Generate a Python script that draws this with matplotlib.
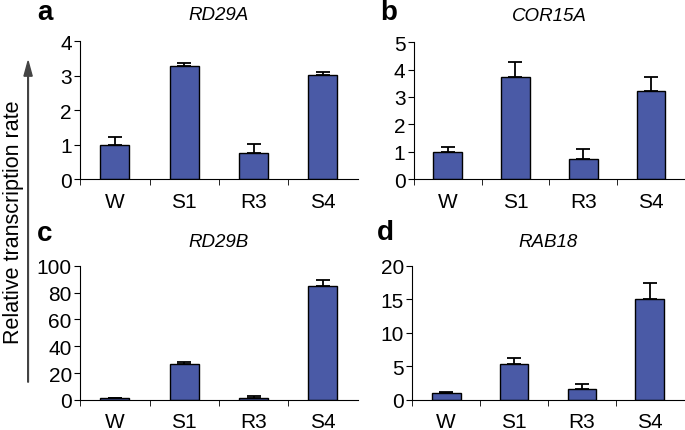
import matplotlib.pyplot as plt
from matplotlib.patches import FancyArrow

plt.rcParams['font.family'] = ['Liberation Sans', 'DejaVu Sans']

# sample labels shared by all panels
samples = ["W", "S1", "R3", "S4"]

# panel a - RD29A
rd29a_mean = [1.0, 3.27, 0.76, 3.03]
rd29a_err = [0.23, 0.11, 0.27, 0.08]
# panel b - COR15A
cor15a_mean = [0.98, 3.72, 0.72, 3.2]
cor15a_err = [0.2, 0.57, 0.37, 0.51]
# panel c - RD29B
rd29b_mean = [1.0, 26.7, 1.5, 84.7]
rd29b_err = [0.3, 1.2, 1.0, 4.5]
# panel d - RAB18
rab18_mean = [1.0, 5.3, 1.6, 15.0]
rab18_err = [0.15, 0.95, 0.7, 2.5]

bar_color = "#4a5aa6"

fig = plt.figure(figsize=(6.85, 4.31), dpi=100)


def bar_panel(rect, letter, letter_xy, gene, title_pad, means, errs, ymax, step):
    ax = fig.add_axes(rect)
    x = range(len(samples))
    ax.bar(x, means, width=0.42, color=bar_color, edgecolor="black", linewidth=1.0,
           yerr=[[0] * len(errs), errs], capsize=5,
           error_kw=dict(ecolor="black", elinewidth=1.3, capthick=1.3))
    ax.set_xlim(-0.5, len(samples) - 0.5)
    ax.set_ylim(0, ymax)
    ax.set_yticks(range(0, ymax + 1, step))
    ax.set_xticks(list(x))
    ax.set_xticklabels(samples)
    ax.set_xticks([i - 0.5 for i in range(len(samples))], minor=True)
    ax.tick_params(axis="x", which="major", length=0, labelsize=15, pad=9)
    ax.tick_params(axis="x", which="minor", length=4, direction="out")
    ax.tick_params(axis="y", length=4, direction="out", labelsize=15, pad=2)
    ax.spines["top"].set_visible(False)
    ax.spines["right"].set_visible(False)
    ax.set_title(gene, fontstyle="italic", fontsize=13.5, pad=title_pad)
    ax.text(letter_xy[0], letter_xy[1], letter, transform=ax.transAxes, fontsize=20,
            fontweight="bold", va="baseline", ha="left")
    return ax


bar_panel([0.117, 0.582, 0.405, 0.320], "a", (-0.155, 1.16), "RD29A", 16,
          rd29a_mean, rd29a_err, 4, 1)
bar_panel([0.604, 0.582, 0.396, 0.318], "b", (-0.125, 1.17), "COR15A", 16,
          cor15a_mean, cor15a_err, 5, 1)
bar_panel([0.117, 0.070, 0.405, 0.311], "c", (-0.155, 1.19), "RD29B", 14,
          rd29b_mean, rd29b_err, 100, 20)
bar_panel([0.602, 0.070, 0.396, 0.311], "d", (-0.13, 1.20), "RAB18", 14,
          rab18_mean, rab18_err, 20, 5)

# shared y label with arrow
fig.text(0.019, 0.485, "Relative transcription rate", rotation=90, fontsize=15.5,
         ha="center", va="center")
fig.patches.append(FancyArrow(
    0.041, 0.111, 0, 0.745, width=0.001, head_width=0.012, head_length=0.035,
    length_includes_head=True, color="#444444", transform=fig.transFigure))

fig.savefig("out.png", dpi=100)
